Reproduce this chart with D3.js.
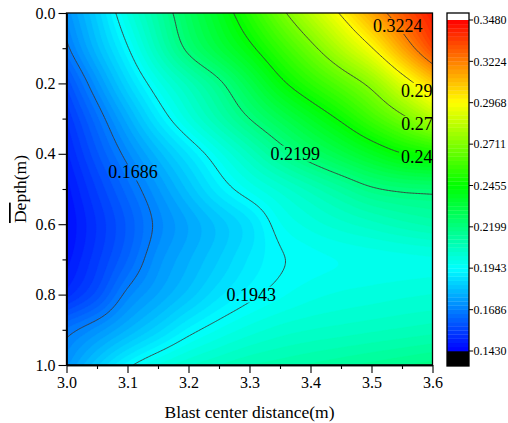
<!DOCTYPE html>
<html>
<head>
<meta charset="utf-8">
<script src="https://cdn.jsdelivr.net/npm/d3@7"></script>
<style>
  body { margin: 0; background: #fff; }
  text { font-family: "Liberation Serif", "Times New Roman", serif; }
</style>
</head>
<body>
<svg id="chart" width="508" height="423"></svg>
<script>
// Sampling grid: blast center distance (m) and depth (m)
const distances = [3.0, 3.05, 3.1, 3.15, 3.2, 3.25, 3.3, 3.35, 3.4, 3.45, 3.5, 3.55, 3.6];
const depths = [0.0, 0.1, 0.2, 0.3, 0.4, 0.5, 0.6, 0.7, 0.8, 0.9, 1.0];

// Measured values, one row per depth, one column per distance
const row00 = [0.1720, 0.1850, 0.2000, 0.2130, 0.2270, 0.2390, 0.2530, 0.2680, 0.2830, 0.2980, 0.3145, 0.3300, 0.3430];
const row01 = [0.1673, 0.1805, 0.1938, 0.2081, 0.2218, 0.2326, 0.2433, 0.2555, 0.2681, 0.2819, 0.2962, 0.3146, 0.3332];
const row02 = [0.1591, 0.1727, 0.1862, 0.1983, 0.2083, 0.2183, 0.2304, 0.2430, 0.2534, 0.2632, 0.2743, 0.2903, 0.3064];
const row03 = [0.1535, 0.1654, 0.1777, 0.1899, 0.2005, 0.2102, 0.2199, 0.2289, 0.2378, 0.2470, 0.2576, 0.2683, 0.2803];
const row04 = [0.1500, 0.1605, 0.1705, 0.1802, 0.1894, 0.1984, 0.2072, 0.2161, 0.2239, 0.2310, 0.2382, 0.2450, 0.2490];
const row05 = [0.1470, 0.1561, 0.1648, 0.1735, 0.1822, 0.1909, 0.1975, 0.2029, 0.2082, 0.2136, 0.2189, 0.2215, 0.2225];
const row06 = [0.1455, 0.1535, 0.1615, 0.1700, 0.1765, 0.1825, 0.1885, 0.1965, 0.2005, 0.2035, 0.2060, 0.2085, 0.2105];
const row07 = [0.1470, 0.1550, 0.1635, 0.1725, 0.1785, 0.1840, 0.1895, 0.1938, 0.1958, 0.1970, 0.1978, 0.1984, 0.1990];
const row08 = [0.1520, 0.1595, 0.1700, 0.1765, 0.1825, 0.1885, 0.1930, 0.1962, 0.1985, 0.1998, 0.2006, 0.2014, 0.2020];
const row09 = [0.1665, 0.1723, 0.1790, 0.1856, 0.1923, 0.1970, 0.2005, 0.2030, 0.2045, 0.2055, 0.2065, 0.2075, 0.2085];
const row10 = [0.1730, 0.1835, 0.1929, 0.1995, 0.2040, 0.2070, 0.2095, 0.2110, 0.2125, 0.2140, 0.2155, 0.2170, 0.2185];
const valueRows = [row00, row01, row02, row03, row04, row05, row06, row07, row08, row09, row10];

// Axis ticks
const xTicks = [3.0, 3.1, 3.2, 3.3, 3.4, 3.5, 3.6];
const xMinorTicks = [3.05, 3.15, 3.25, 3.35, 3.45, 3.55];
const yTicks = [0.0, 0.2, 0.4, 0.6, 0.8, 1.0];
const yMinorTicks = [0.1, 0.3, 0.5, 0.7, 0.9];

// Colour levels
const levelMin = 0.1430;
const levelMax = 0.3480;
const levelCount = 80;
const colorbarTickLabels = ["0.1430", "0.1686", "0.1943", "0.2199", "0.2455", "0.2711", "0.2968", "0.3224", "0.3480"];

// Contour lines and where their labels sit (distance, depth)
const contourLineLabels = ["0.1686", "0.1943", "0.2199", "0.2455", "0.2711", "0.2968", "0.3224"];
const contourLabelAnchors = [[3.109, 0.453], [3.303, 0.800], [3.375, 0.400], [3.589, 0.408], [3.589, 0.315], [3.589, 0.221], [3.543, 0.037]];

// ---------------------------------------------------------------------------
const svg = d3.select("#chart");
const plot = { left: 66.5, right: 432.5, top: 13, bottom: 365 };
const x = d3.scaleLinear().domain([3.0, 3.6]).range([plot.left, plot.right]);
const y = d3.scaleLinear().domain([0, 1]).range([plot.top, plot.bottom]);

const step = (levelMax - levelMin) / levelCount;
const levels = d3.range(levelCount).map(i => levelMin + i * step);
const ramp = d3.scaleLinear()
  .domain([0, 0.25, 0.5, 0.75, 1])
  .range(["#0000ff", "#00ffff", "#00ff00", "#ffff00", "#ff0000"])
  .interpolate(d3.interpolateRgb);
const bandColor = i => ramp((i + 0.5) / levelCount);

// Smooth (Catmull-Rom) resampling of the measured grid for drawing
const nRows = depths.length, nCols = distances.length;
function at(r, c) {
  if (r < 0) return 2 * at(0, c) - at(1, c);
  if (r > nRows - 1) return 2 * at(nRows - 1, c) - at(nRows - 2, c);
  if (c < 0) return 2 * at(r, 0) - at(r, 1);
  if (c > nCols - 1) return 2 * at(r, nCols - 1) - at(r, nCols - 2);
  return valueRows[r][c];
}
function cr(p0, p1, p2, p3, t) {
  return p1 + 0.5 * t * (p2 - p0 + t * (2 * p0 - 5 * p1 + 4 * p2 - p3 + t * (3 * (p1 - p2) + p3 - p0)));
}
const colIndex = d3.scaleLinear().domain(d3.extent(distances)).range([0, nCols - 1]).clamp(true);
const rowIndex = d3.scaleLinear().domain(d3.extent(depths)).range([0, nRows - 1]).clamp(true);
function field(xv, dv) {
  const u = colIndex(xv), v = rowIndex(dv);
  const c = Math.min(Math.floor(u), nCols - 2), r = Math.min(Math.floor(v), nRows - 2);
  const tu = u - c, tv = v - r;
  const rows = [-1, 0, 1, 2].map(k => cr(at(r + k, c - 1), at(r + k, c), at(r + k, c + 1), at(r + k, c + 2), tu));
  return cr(rows[0], rows[1], rows[2], rows[3], tv);
}

const nx = 250, ny = 210;
const gx0 = 2.99, gx1 = 3.61, gd0 = -0.01, gd1 = 1.01;
const sx = (gx1 - gx0) / (nx - 1), sd = (gd1 - gd0) / (ny - 1);
const grid = new Float64Array(nx * ny);
for (let j = 0; j < ny; j++)
  for (let i = 0; i < nx; i++)
    grid[j * nx + i] = field(gx0 + i * sx, gd0 + j * sd);

const toScreen = d3.geoTransform({
  point(cx, cy) {
    this.stream.point(x(gx0 + (cx - 0.5) * sx), y(gd0 + (cy - 0.5) * sd));
  }
});
const path = d3.geoPath(toScreen);

svg.append("clipPath").attr("id", "plotClip")
  .append("rect")
  .attr("x", plot.left).attr("y", plot.top)
  .attr("width", plot.right - plot.left).attr("height", plot.bottom - plot.top);

const plotArea = svg.append("g").attr("clip-path", "url(#plotClip)");

// Filled bands
const bands = d3.contours().size([nx, ny]).thresholds(levels)(grid);
plotArea.append("g").selectAll("path")
  .data(bands)
  .join("path")
  .attr("d", path)
  .attr("fill", (d, i) => bandColor(i))
  .attr("stroke", (d, i) => bandColor(i))
  .attr("stroke-width", 0.3);

// Contour labels (drawn first to measure, then lines masked around them)
const lineLevels = contourLineLabels.map(Number);
const labelGroup = plotArea.append("g");
const labels = labelGroup.selectAll("text")
  .data(contourLineLabels)
  .join("text")
  .attr("x", (d, i) => x(contourLabelAnchors[i][0]))
  .attr("y", (d, i) => y(contourLabelAnchors[i][1]))
  .attr("text-anchor", "middle")
  .attr("dominant-baseline", "central")
  .attr("font-size", 18)
  .attr("fill", "#000")
  .text(d => d);

const mask = svg.append("mask").attr("id", "labelMask")
  .attr("maskUnits", "userSpaceOnUse")
  .attr("x", 0).attr("y", 0).attr("width", 508).attr("height", 423);
mask.append("rect").attr("x", 0).attr("y", 0).attr("width", 508).attr("height", 423).attr("fill", "#fff");
labels.each(function () {
  const b = this.getBBox();
  mask.append("rect")
    .attr("x", b.x - 2).attr("y", b.y + 2)
    .attr("width", b.width + 4).attr("height", b.height - 4)
    .attr("fill", "#000");
});

const lines = d3.contours().size([nx, ny]).thresholds(lineLevels)(grid);
plotArea.insert("g", () => labelGroup.node())
  .attr("mask", "url(#labelMask)")
  .selectAll("path")
  .data(lines)
  .join("path")
  .attr("d", path)
  .attr("fill", "none")
  .attr("stroke", "#3a3a3a")
  .attr("stroke-width", 0.9);

// Frame
svg.append("rect")
  .attr("x", plot.left).attr("y", plot.top)
  .attr("width", plot.right - plot.left).attr("height", plot.bottom - plot.top)
  .attr("fill", "none").attr("stroke", "#000").attr("stroke-width", 1.3);

// Axes
const fmt = d3.format(".1f");
svg.append("g").attr("transform", `translate(0,${plot.bottom})`)
  .call(d3.axisBottom(x).tickValues(xTicks).tickFormat(fmt).tickSize(8).tickSizeOuter(0).tickPadding(4));
svg.append("g").attr("transform", `translate(0,${plot.bottom})`)
  .call(d3.axisBottom(x).tickValues(xMinorTicks).tickFormat("").tickSize(4).tickSizeOuter(0));
svg.append("g").attr("transform", `translate(${plot.left},0)`)
  .call(d3.axisLeft(y).tickValues(yTicks).tickFormat(fmt).tickSize(8).tickSizeOuter(0).tickPadding(3));
svg.append("g").attr("transform", `translate(${plot.left},0)`)
  .call(d3.axisLeft(y).tickValues(yMinorTicks).tickFormat("").tickSize(4).tickSizeOuter(0));
svg.selectAll(".domain").attr("stroke", "#000").attr("stroke-width", 1.3);
svg.selectAll(".tick line").attr("stroke", "#000").attr("stroke-width", 1.1);
svg.selectAll(".tick text")
  .attr("font-family", "'Liberation Serif', 'Times New Roman', serif")
  .attr("font-size", 16).attr("fill", "#000");

// Axis titles
svg.append("text")
  .attr("x", (plot.left + plot.right) / 2).attr("y", 418)
  .attr("text-anchor", "middle").attr("font-size", 17.5)
  .text("Blast center distance(m)");
const yTitle = svg.append("text")
  .attr("transform", `translate(26,${(plot.top + plot.bottom) / 2}) rotate(-90)`)
  .attr("text-anchor", "middle").attr("font-size", 17.5);
yTitle.append("tspan").attr("text-decoration", "overline").style("text-decoration", "overline").text("De");
yTitle.append("tspan").text("pth(m)");

// Colour scale bar
const cb = { left: 447, right: 469, top: 13, bottom: 366 };
const cy = d3.scaleLinear().domain([levelMin, levelMax]).range([351, 20]);
const cbar = svg.append("g");
cbar.append("rect")
  .attr("x", cb.left).attr("y", cb.top).attr("width", cb.right - cb.left).attr("height", cy(levelMax) - cb.top)
  .attr("fill", "#fff");
cbar.append("rect")
  .attr("x", cb.left).attr("y", cy(levelMin)).attr("width", cb.right - cb.left).attr("height", cb.bottom - cy(levelMin))
  .attr("fill", "#000");
cbar.selectAll("rect.band")
  .data(levels)
  .join("rect")
  .attr("class", "band")
  .attr("x", cb.left)
  .attr("y", d => cy(d + step))
  .attr("width", cb.right - cb.left)
  .attr("height", d => cy(d) - cy(d + step) + 0.3)
  .attr("fill", (d, i) => bandColor(i));
cbar.append("rect")
  .attr("x", cb.left).attr("y", cb.top).attr("width", cb.right - cb.left).attr("height", cb.bottom - cb.top)
  .attr("fill", "none").attr("stroke", "#000").attr("stroke-width", 1.3);
const cbTicks = cbar.selectAll("g.cbtick")
  .data(colorbarTickLabels)
  .join("g")
  .attr("class", "cbtick")
  .attr("transform", d => `translate(${cb.right},${cy(Number(d))})`);
cbTicks.append("line").attr("x1", 0).attr("x2", 4).attr("stroke", "#000").attr("stroke-width", 1);
cbTicks.append("text")
  .attr("x", 4.5).attr("dy", "0.35em")
  .attr("font-size", 12).attr("fill", "#000")
  .text(d => d);
</script>
</body>
</html>
